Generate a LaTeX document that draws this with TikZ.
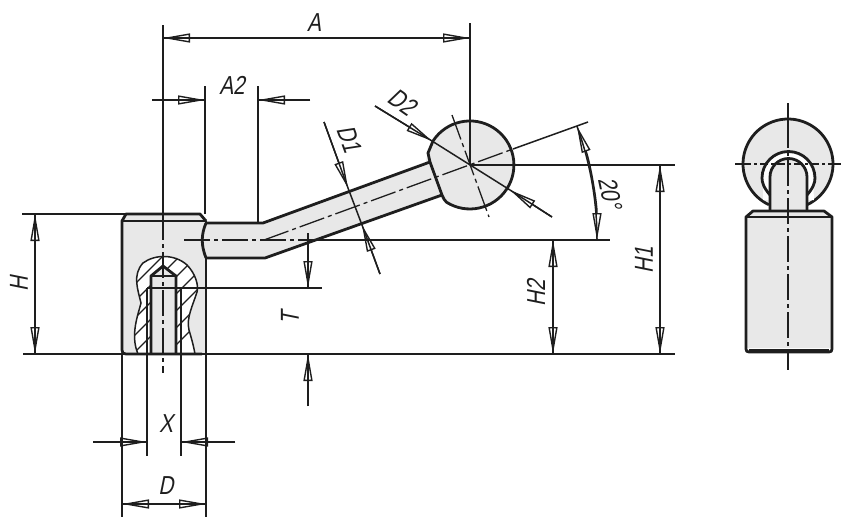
\documentclass[tikz,border=0pt]{standalone}
\usepackage{fontspec}
\usetikzlibrary{arrows.meta}
\newfontfamily\dimfont[FakeStretch=0.8,FakeSlant=0.2]{Liberation Sans}
\definecolor{partgray}{HTML}{E8E8E8}
\definecolor{inkgray}{HTML}{1E1E1E}
\tikzset{
  dimtip/.tip={Triangle[open,length=27pt,width=9pt,line width=1.4pt]},
  outline/.style={draw=inkgray,line width=2.8pt,line join=round},
  thinline/.style={draw=inkgray,line width=1.5pt},
  dimline/.style={thinline,postaction={draw,-}},
  centreline/.style={draw=inkgray,line width=1.3pt,dash pattern=on 26pt off 4pt on 4pt off 4pt},
  hatchline/.style={draw=inkgray,line width=1.3pt},
  dimlabel/.style={font=\dimfont\fontsize{26}{26}\selectfont,inner sep=0pt,text=inkgray},
}
\begin{document}
\begin{tikzpicture}[x=1pt,y=-1pt]
\useasboundingbox (0,0) rectangle (854,530);
\coordinate (ball) at (470,165);
\coordinate (sideball) at (788,164);

% fills of the handle
\fill[partgray] (122,221) -- (126,214) -- (200,214) -- (206,221) -- (206,354) -- (122,354) -- cycle;
\fill[partgray] (202,223) -- (263,223) -- (430,162) -- (447,202) -- (442,195) -- (265,258) -- (205,258) -- cycle;
\fill[partgray] (ball) circle (44pt);

% sectioned part
\begin{scope}
\clip (138,354) .. controls (130,335) and (138,315) .. (141,303)
  .. controls (138,290) and (132,275) .. (143,263)
  .. controls (155,254) and (175,254) .. (187,265)
  .. controls (195,273) and (199,285) .. (197,292)
  .. controls (193,305) and (186,318) .. (189,330)
  .. controls (192,340) and (194,348) .. (195,354) -- cycle;
\fill[white] (120,250) rectangle (210,360);
\foreach \i in {0,...,8}
  \draw[hatchline] (110,{275+\i*17}) -- (210,{175+\i*17});
\end{scope}
\draw[thinline] (138,354) .. controls (130,335) and (138,315) .. (141,303)
  .. controls (138,290) and (132,275) .. (143,263)
  .. controls (155,254) and (175,254) .. (187,265)
  .. controls (195,273) and (199,285) .. (197,292)
  .. controls (193,305) and (186,318) .. (189,330)
  .. controls (192,340) and (194,348) .. (195,354);
\fill[partgray] (151,276) -- (163,266) -- (176,276) -- (176,354) -- (151,354) -- cycle;
\draw[outline] (151,354) -- (151,276) -- (163,266) -- (176,276) -- (176,354);
\draw[thinline] (151,276) -- (176,276);
\draw[outline,line width=2pt] (147,288) -- (181,288);

% extension lines
\draw[thinline] (163,25) -- (163,214);
\draw[thinline] (470,23) -- (ball);
\draw[thinline] (205,86) -- (205,214);
\draw[thinline] (258,86) -- (258,222);
\draw[thinline] (22,214) -- (126,214);
\draw[thinline] (23,354) -- (675,354);
\draw[thinline] (ball) -- (675,165);
\draw[thinline] (322,240) -- (610,240);
\draw[thinline] (181,288) -- (322,288);
\draw[thinline] (122,354) -- (122,517);
\draw[thinline] (206,354) -- (206,517);
\draw[thinline] (147,288) -- (147,456);
\draw[thinline] (181,288) -- (181,456);

% centre lines
\draw[centreline] (163,214) -- (163,373);
\draw[centreline] (184,240) -- (322,240);
\draw[centreline] (264,240) -- (513,149);
\draw[thinline] (513,149) -- (588,122);
\draw[centreline] (452,115) -- (489,217);

% dimensions
\draw[dimline,{dimtip}-{dimtip}] (163,38) -- (470,38);
\draw[dimline,-{dimtip}] (152,100) -- (205,100);
\draw[dimline,-{dimtip}] (310,100) -- (258,100);
\draw[dimline,{dimtip}-{dimtip}] (35,214) -- (35,354);
\draw[dimline,{dimtip}-{dimtip}] (660,165) -- (660,354);
\draw[dimline,{dimtip}-{dimtip}] (553,240) -- (553,354);
\draw[dimline,-{dimtip}] (308,233) -- (308,288);
\draw[dimline,-{dimtip}] (308,406) -- (308,354);
\draw[dimline,-{dimtip}] (93,442) -- (147,442);
\draw[dimline,-{dimtip}] (235,442) -- (181,442);
\draw[dimline,{dimtip}-{dimtip}] (122,504) -- (206,504);
\draw[dimline,{dimtip}-{dimtip}] (597,240) arc[start angle=0,end angle=20,radius=333pt];
\draw[dimline,-{dimtip}] (375,106) -- (432,141);
\draw[dimline,-{dimtip}] (552,217) -- (510,190);
\draw[thinline] (432,141) -- (510,190);
\draw[dimline,-{dimtip}] (324,122) -- (348,188);
\draw[dimline,-{dimtip}] (380,274) -- (362,225);
\draw[thinline] (348,188) -- (362,225);

% outline of the handle
\draw[outline] (206,221) -- (200,214) -- (126,214) -- (122,221) -- (122,350)
  .. controls (122,353) and (123,354) .. (126,354) -- (202,354);
\draw[outline] (122,221) -- (206,221) -- (206,223);
\draw[thinline] (206,258) -- (206,354);
\draw[outline] (206,223) .. controls (201,235) and (201,245) .. (206,258);
\draw[outline] (206,223) -- (263,223) -- (430,162);
\draw[outline] (206,258) -- (265,258) -- (442,195);
\draw[outline] (430,162) -- (428,153) -- (433,141)
  arc[start angle=147,end angle=-122,radius=44pt]
  .. controls (445,201) and (443,198) .. (442,195) -- (430,162);

% side view
\fill[partgray] (sideball) circle (45pt);
\draw[outline] (sideball) ++(-115:45pt) arc[start angle=-115,end angle=-425,radius=45pt];
\fill[white] (763,178) arc[start angle=180,end angle=0,radius=25pt] -- (814,200) -- (763,200) -- cycle;
\fill[partgray] (770,210) -- (770,177) arc[start angle=180,end angle=0,radius=18.5pt] -- (807,210) -- cycle;
\draw[outline] (770,195) .. controls (764,188) and (762,183) .. (762,178)
  arc[start angle=180,end angle=0,radius=26.5pt]
  .. controls (815,183) and (813,188) .. (807,195);
\draw[outline] (770,210) -- (770,177) arc[start angle=180,end angle=0,radius=18.5pt] -- (807,210);
\fill[partgray] (746,217) -- (753,211) -- (824,211) -- (832,217) -- (832,348) -- (746,348) -- cycle;
\draw[outline] (746,217) -- (753,211) -- (824,211) -- (832,217) -- (832,349)
  .. controls (832,351) and (831,352) .. (829,352) -- (749,352)
  .. controls (747,352) and (746,351) .. (746,349) -- cycle;
\draw[outline,line width=2pt] (746,217) -- (832,217);
\draw[outline,line width=3.4pt] (749,350.5) -- (829,350.5);
\draw[thinline] (788,103) -- (788,122);
\draw[centreline] (788,122) -- (788,352);
\draw[thinline] (788,352) -- (788,370);
\draw[thinline] (735,164) -- (743,164);
\draw[centreline,dash pattern=on 8pt off 3pt on 3pt off 3pt] (743,164) -- (833,164);
\draw[thinline] (833,164) -- (841,164);

% labels
\node[dimlabel] (labA) at (314,23) {A};
\node[dimlabel] (labAtwo) at (232,85) {A2};
\node[dimlabel,rotate=-35] (labDtwo) at (402,102) {D2};
\node[dimlabel,rotate=-70] (labDone) at (349,139) {D1};
\node[dimlabel,rotate=-78] (labangle) at (610,193) {20°};
\node[dimlabel,rotate=90] (labHone) at (644,260) {H1};
\node[dimlabel,rotate=90] (labHtwo) at (536,293) {H2};
\node[dimlabel,rotate=90] (labH) at (19,284) {H};
\node[dimlabel,rotate=90] (labT) at (290,318) {T};
\node[dimlabel] (labX) at (166,424) {X};
\node[dimlabel] (labD) at (166,486) {D};
\end{tikzpicture}
\end{document}
